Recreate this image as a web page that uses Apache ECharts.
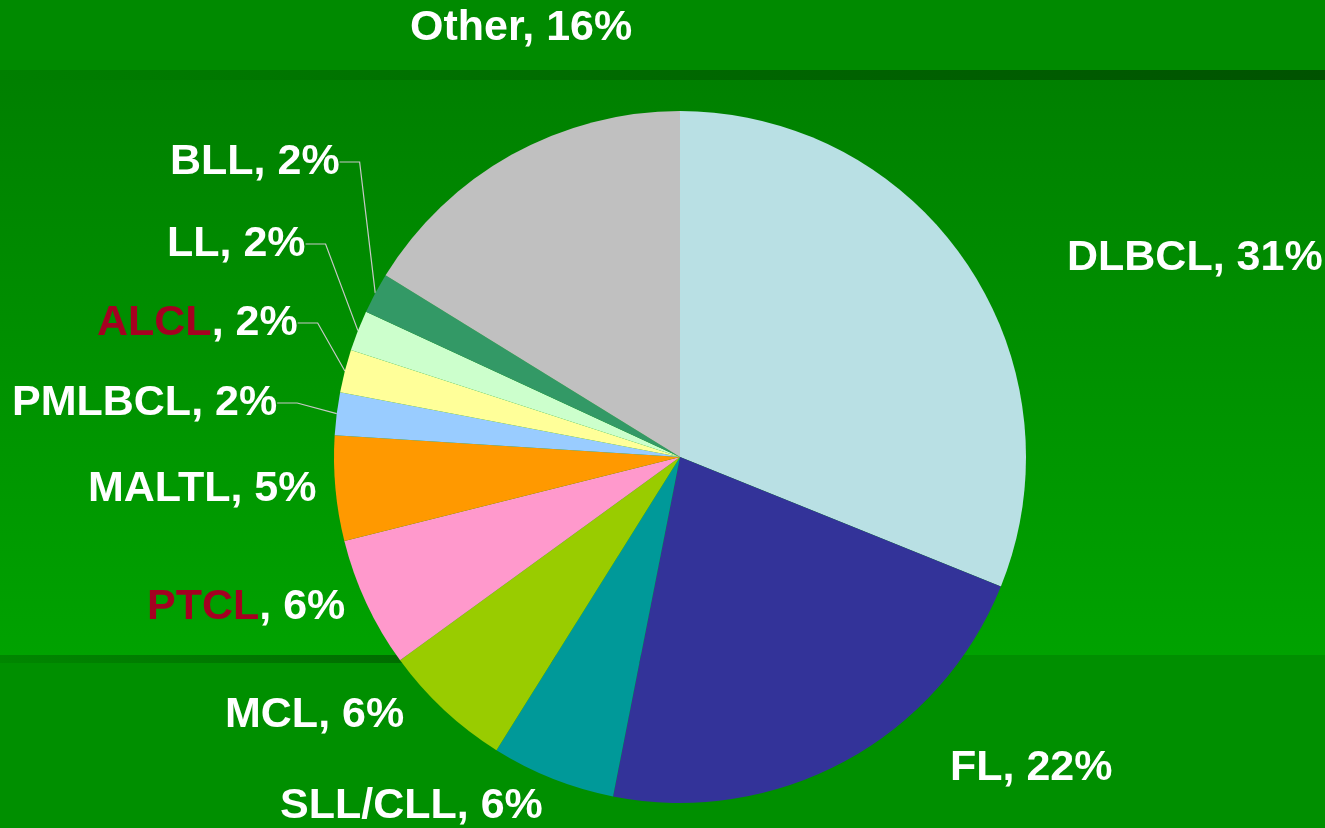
<!DOCTYPE html>
<html>
<head>
<meta charset="utf-8">
<script src="https://cdn.jsdelivr.net/npm/echarts@6/dist/echarts.min.js"></script>
<style>
html,body{margin:0;padding:0;background:#008a00;}
#chart{width:1325px;height:828px;}
</style>
</head>
<body>
<div id="chart"></div>
<script>
// Data
const categories = ['DLBCL', 'FL', 'SLL/CLL', 'MCL', 'PTCL', 'MALTL', 'PMLBCL', 'ALCL', 'LL', 'BLL', 'Other'];
const shares = [31.1, 22.0, 5.8, 6.1, 6.1, 4.9, 2.0, 2.0, 1.9, 1.9, 16.2];
const highlighted = ['PTCL', 'ALCL'];
const withLeader = ['PMLBCL', 'ALCL', 'LL', 'BLL'];

// Styles / layout
const colors = ['#b9e0e4', '#333399', '#009999', '#99cc00', '#ff99cc', '#ff9900', '#99ccff', '#ffff99', '#ccffcc', '#339966', '#c0c0c0'];
const labelPos = {
  'DLBCL': [1067, 258], 'FL': [950, 768], 'SLL/CLL': [280, 806], 'MCL': [225, 715],
  'PTCL': [147, 607], 'MALTL': [88, 489], 'PMLBCL': [12, 403], 'ALCL': [97, 323],
  'LL': [167, 244], 'BLL': [170, 162], 'Other': [410, 28]
};

const chart = echarts.init(document.getElementById('chart'), null, {renderer: 'canvas'});

const data = categories.map((c, i) => ({
  name: c,
  value: shares[i],
  itemStyle: {color: colors[i]},
  labelLine: {show: withLeader.indexOf(c) >= 0}
}));

chart.setOption({
  animation: false,
  graphic: [
    {type: 'rect', z: -10, silent: true, shape: {x: 0, y: 0, width: 1325, height: 70}, style: {fill: '#008a00'}},
    {type: 'rect', z: -10, silent: true, shape: {x: 0, y: 70, width: 1325, height: 10},
      style: {fill: new echarts.graphic.LinearGradient(0, 0, 1, 0, [{offset: 0, color: '#007f00'}, {offset: 1, color: '#005200'}])}},
    {type: 'rect', z: -10, silent: true, shape: {x: 0, y: 80, width: 1325, height: 575},
      style: {fill: new echarts.graphic.LinearGradient(0, 0, 0, 1, [{offset: 0, color: '#008000'}, {offset: 1, color: '#00a200'}])}},
    {type: 'rect', z: -10, silent: true, shape: {x: 0, y: 655, width: 1325, height: 173}, style: {fill: '#008f00'}},
    {type: 'rect', z: -9, silent: true, shape: {x: 0, y: 655, width: 690, height: 8},
      style: {fill: new echarts.graphic.LinearGradient(0, 0, 1, 0, [{offset: 0, color: '#008600'}, {offset: 1, color: '#005a00'}])}}
  ],
  series: [{
    type: 'pie',
    center: [680, 457],
    radius: [0, 346],
    startAngle: 90,
    clockwise: true,
    avoidLabelOverlap: false,
    data: data,
    itemStyle: {borderWidth: 0},
    emphasis: {disabled: true},
    label: {
      show: true,
      position: 'outside',
      color: '#ffffff',
      fontFamily: 'Liberation Sans, Arial, sans-serif',
      fontWeight: 'bold',
      fontSize: 43,
      padding: [0, 9, 0, 0],
      formatter: function (p) {
        const pct = Math.round(p.value) + '%';
        if (highlighted.indexOf(p.name) >= 0) return '{r|' + p.name + '}, ' + pct;
        return p.name + ', ' + pct;
      },
      rich: {
        r: {color: '#a50021', fontFamily: 'Liberation Sans, Arial, sans-serif', fontWeight: 'bold', fontSize: 43}
      }
    },
    labelLine: {
      show: false,
      length: 10,
      length2: 20,
      smooth: false,
      lineStyle: {color: '#c8c8c8', width: 1.2}
    },
    labelLayout: function (params) {
      const name = categories[params.dataIndex];
      const pos = labelPos[name];
      return {x: pos[0], y: pos[1], align: 'left', verticalAlign: 'middle'};
    }
  }]
});
</script>
</body>
</html>
